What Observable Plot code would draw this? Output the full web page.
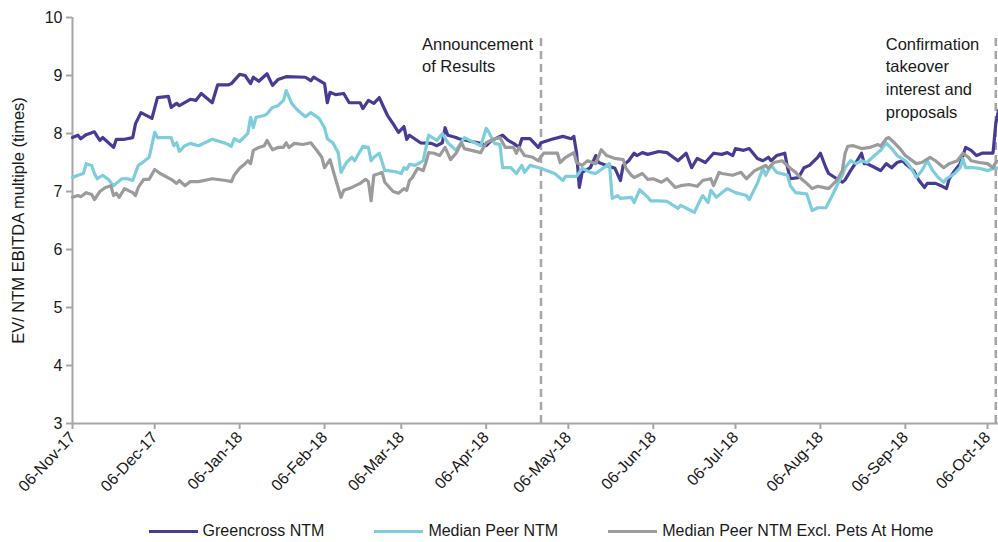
<!DOCTYPE html>
<html>
<head>
<meta charset="utf-8">
<script src="https://cdn.jsdelivr.net/npm/d3@7"></script>
<script src="https://cdn.jsdelivr.net/npm/@observablehq/plot@0.6"></script>
<style>
  body { margin: 0; background: #fff; font-family: "Liberation Sans", Arial, sans-serif; }
  #chart svg { display: block; }
  #legend { display: flex; justify-content: center; padding-left: 84px; margin-top: 4px; height: 24px; line-height: 24px; font-size: 16px; color: #1a1a1a; }
  .item { display: flex; align-items: center; margin: 0 25px; }
  .sw { width: 49px; height: 3px; margin-right: 5px; }
</style>
</head>
<body>
<div id="chart"></div>
<div id="legend"></div>
<script>
const seriesNames = ["Greencross NTM", "Median Peer NTM", "Median Peer NTM Excl. Pets At Home"];
const seriesColors = ["#473c95", "#7dcddd", "#9b9b9b"];

const greencross = [["2017-11-06",7.93],["2017-11-08",7.97],["2017-11-09",7.91],["2017-11-11",7.98],["2017-11-14",8.03],["2017-11-15",7.95],["2017-11-16",7.88],["2017-11-17",7.93],["2017-11-21",7.76],["2017-11-22",7.9],["2017-11-25",7.9],["2017-11-28",7.93],["2017-11-29",8.17],["2017-12-01",8.36],["2017-12-05",8.26],["2017-12-07",8.62],["2017-12-11",8.64],["2017-12-12",8.45],["2017-12-14",8.52],["2017-12-15",8.48],["2017-12-19",8.59],["2017-12-21",8.57],["2017-12-23",8.69],["2017-12-27",8.53],["2017-12-29",8.84],["2018-01-02",8.84],["2018-01-03",8.86],["2018-01-06",9.02],["2018-01-08",9.0],["2018-01-10",8.86],["2018-01-11",8.97],["2018-01-13",8.9],["2018-01-16",9.03],["2018-01-18",8.83],["2018-01-20",8.93],["2018-01-23",8.98],["2018-01-30",8.97],["2018-02-01",8.91],["2018-02-02",8.97],["2018-02-06",8.86],["2018-02-07",8.53],["2018-02-08",8.71],["2018-02-10",8.67],["2018-02-13",8.69],["2018-02-15",8.53],["2018-02-19",8.53],["2018-02-20",8.43],["2018-02-22",8.57],["2018-02-24",8.52],["2018-02-26",8.62],["2018-02-28",8.41],["2018-03-01",8.31],["2018-03-03",8.17],["2018-03-05",8.02],["2018-03-07",8.12],["2018-03-08",7.9],["2018-03-09",7.97],["2018-03-13",7.84],["2018-03-17",7.83],["2018-03-19",7.79],["2018-03-21",7.84],["2018-03-22",8.1],["2018-03-23",7.97],["2018-03-26",7.93],["2018-03-27",7.91],["2018-03-30",7.88],["2018-04-04",7.83],["2018-04-06",7.79],["2018-04-08",7.88],["2018-04-12",7.97],["2018-04-14",7.88],["2018-04-16",7.83],["2018-04-18",7.76],["2018-04-19",7.91],["2018-04-22",7.91],["2018-04-25",7.76],["2018-04-26",7.84],["2018-04-30",7.9],["2018-05-04",7.95],["2018-05-07",7.91],["2018-05-08",7.95],["2018-05-09",7.66],["2018-05-10",7.07],["2018-05-11",7.33],["2018-05-14",7.41],["2018-05-16",7.62],["2018-05-17",7.5],["2018-05-20",7.45],["2018-05-23",7.4],["2018-05-25",7.19],["2018-05-26",7.45],["2018-05-28",7.53],["2018-05-30",7.66],["2018-05-31",7.62],["2018-06-02",7.67],["2018-06-04",7.64],["2018-06-08",7.69],["2018-06-11",7.67],["2018-06-15",7.53],["2018-06-18",7.66],["2018-06-20",7.41],["2018-06-22",7.57],["2018-06-25",7.5],["2018-06-28",7.66],["2018-07-01",7.64],["2018-07-03",7.67],["2018-07-05",7.62],["2018-07-06",7.74],["2018-07-09",7.71],["2018-07-11",7.74],["2018-07-14",7.57],["2018-07-16",7.53],["2018-07-18",7.59],["2018-07-19",7.53],["2018-07-21",7.62],["2018-07-24",7.66],["2018-07-25",7.41],["2018-07-26",7.22],["2018-07-29",7.24],["2018-07-31",7.41],["2018-08-02",7.45],["2018-08-05",7.59],["2018-08-06",7.66],["2018-08-08",7.41],["2018-08-09",7.31],["2018-08-12",7.22],["2018-08-14",7.16],["2018-08-15",7.2],["2018-08-17",7.36],["2018-08-19",7.5],["2018-08-21",7.66],["2018-08-22",7.48],["2018-08-23",7.48],["2018-08-26",7.41],["2018-08-28",7.36],["2018-08-30",7.48],["2018-09-01",7.41],["2018-09-03",7.5],["2018-09-05",7.53],["2018-09-06",7.48],["2018-09-09",7.36],["2018-09-11",7.19],["2018-09-13",7.07],["2018-09-14",7.14],["2018-09-17",7.14],["2018-09-19",7.1],["2018-09-21",7.05],["2018-09-22",7.22],["2018-09-24",7.36],["2018-09-26",7.48],["2018-09-28",7.76],["2018-09-30",7.71],["2018-10-02",7.62],["2018-10-04",7.66],["2018-10-06",7.66],["2018-10-08",7.66],["2018-10-09",8.17],["2018-10-10",8.4]];

const medianPeer = [["2017-11-06",7.24],["2017-11-08",7.28],["2017-11-10",7.31],["2017-11-11",7.48],["2017-11-13",7.45],["2017-11-14",7.31],["2017-11-15",7.22],["2017-11-17",7.28],["2017-11-19",7.21],["2017-11-21",7.1],["2017-11-22",7.14],["2017-11-24",7.22],["2017-11-26",7.22],["2017-11-28",7.19],["2017-11-30",7.45],["2017-12-01",7.48],["2017-12-04",7.59],["2017-12-06",8.02],["2017-12-07",7.93],["2017-12-12",7.93],["2017-12-13",7.79],["2017-12-14",7.84],["2017-12-15",7.69],["2017-12-17",7.79],["2017-12-19",7.83],["2017-12-22",7.79],["2017-12-27",7.9],["2018-01-01",7.83],["2018-01-03",7.78],["2018-01-04",7.91],["2018-01-06",7.86],["2018-01-09",8.0],["2018-01-10",8.28],["2018-01-11",8.1],["2018-01-12",8.28],["2018-01-15",8.31],["2018-01-16",8.34],["2018-01-18",8.45],["2018-01-20",8.48],["2018-01-22",8.57],["2018-01-23",8.74],["2018-01-25",8.52],["2018-01-27",8.41],["2018-01-30",8.29],["2018-02-01",8.36],["2018-02-04",8.26],["2018-02-06",8.1],["2018-02-07",7.91],["2018-02-09",7.84],["2018-02-11",7.67],["2018-02-12",7.33],["2018-02-14",7.5],["2018-02-16",7.59],["2018-02-17",7.53],["2018-02-20",7.78],["2018-02-22",7.76],["2018-02-23",7.53],["2018-02-24",7.59],["2018-02-26",7.66],["2018-02-28",7.36],["2018-03-01",7.36],["2018-03-04",7.34],["2018-03-06",7.31],["2018-03-07",7.41],["2018-03-08",7.38],["2018-03-09",7.47],["2018-03-11",7.45],["2018-03-13",7.5],["2018-03-14",7.53],["2018-03-16",7.97],["2018-03-19",7.88],["2018-03-21",8.0],["2018-03-23",7.84],["2018-03-26",7.71],["2018-03-29",7.93],["2018-04-04",7.79],["2018-04-05",7.93],["2018-04-06",8.09],["2018-04-07",8.02],["2018-04-09",7.83],["2018-04-11",7.81],["2018-04-12",7.41],["2018-04-15",7.41],["2018-04-17",7.31],["2018-04-19",7.45],["2018-04-20",7.33],["2018-04-22",7.45],["2018-04-26",7.4],["2018-04-27",7.38],["2018-05-01",7.31],["2018-05-04",7.19],["2018-05-05",7.26],["2018-05-09",7.26],["2018-05-11",7.4],["2018-05-14",7.33],["2018-05-16",7.31],["2018-05-18",7.38],["2018-05-21",7.48],["2018-05-22",6.88],["2018-05-24",6.93],["2018-05-25",6.88],["2018-05-29",6.9],["2018-05-30",6.81],["2018-06-01",7.03],["2018-06-04",6.9],["2018-06-05",6.84],["2018-06-08",6.84],["2018-06-11",6.83],["2018-06-15",6.71],["2018-06-16",6.76],["2018-06-19",6.69],["2018-06-21",6.64],["2018-06-23",6.84],["2018-06-24",6.93],["2018-06-26",6.81],["2018-06-27",7.02],["2018-06-29",6.9],["2018-07-03",7.05],["2018-07-06",6.98],["2018-07-10",6.93],["2018-07-11",6.86],["2018-07-14",7.14],["2018-07-16",7.4],["2018-07-17",7.28],["2018-07-19",7.45],["2018-07-21",7.33],["2018-07-25",7.28],["2018-07-26",7.1],["2018-07-28",6.98],["2018-08-01",6.96],["2018-08-03",6.67],["2018-08-05",6.72],["2018-08-08",6.72],["2018-08-10",6.9],["2018-08-12",7.1],["2018-08-14",7.28],["2018-08-15",7.41],["2018-08-17",7.53],["2018-08-19",7.48],["2018-08-21",7.53],["2018-08-23",7.5],["2018-08-25",7.59],["2018-08-28",7.71],["2018-08-30",7.84],["2018-09-01",7.74],["2018-09-03",7.62],["2018-09-06",7.53],["2018-09-08",7.41],["2018-09-10",7.24],["2018-09-12",7.36],["2018-09-14",7.53],["2018-09-16",7.36],["2018-09-18",7.24],["2018-09-20",7.16],["2018-09-21",7.22],["2018-09-24",7.31],["2018-09-26",7.41],["2018-09-27",7.57],["2018-09-28",7.41],["2018-10-01",7.41],["2018-10-03",7.4],["2018-10-06",7.36],["2018-10-09",7.41],["2018-10-10",7.4]];

const medianPeerExPAH = [["2017-11-06",6.9],["2017-11-08",6.93],["2017-11-09",6.91],["2017-11-11",6.98],["2017-11-13",6.95],["2017-11-14",6.86],["2017-11-16",7.0],["2017-11-18",7.07],["2017-11-20",7.1],["2017-11-21",6.93],["2017-11-22",6.97],["2017-11-23",6.9],["2017-11-25",7.05],["2017-11-28",6.98],["2017-11-29",6.93],["2017-11-30",7.07],["2017-12-02",7.21],["2017-12-04",7.21],["2017-12-06",7.38],["2017-12-08",7.31],["2017-12-12",7.21],["2017-12-14",7.14],["2017-12-15",7.19],["2017-12-17",7.1],["2017-12-19",7.17],["2017-12-22",7.17],["2017-12-27",7.22],["2018-01-01",7.19],["2018-01-03",7.17],["2018-01-04",7.28],["2018-01-06",7.4],["2018-01-08",7.48],["2018-01-09",7.53],["2018-01-10",7.48],["2018-01-11",7.71],["2018-01-13",7.76],["2018-01-15",7.79],["2018-01-16",7.88],["2018-01-18",7.72],["2018-01-20",7.76],["2018-01-22",7.76],["2018-01-23",7.84],["2018-01-24",7.76],["2018-01-26",7.83],["2018-01-29",7.81],["2018-02-01",7.84],["2018-02-03",7.72],["2018-02-05",7.59],["2018-02-06",7.41],["2018-02-08",7.55],["2018-02-10",7.22],["2018-02-12",6.9],["2018-02-13",7.02],["2018-02-16",7.07],["2018-02-19",7.14],["2018-02-21",7.21],["2018-02-22",7.17],["2018-02-23",6.84],["2018-02-24",7.28],["2018-02-26",7.31],["2018-02-27",7.33],["2018-02-28",7.16],["2018-03-03",7.0],["2018-03-05",6.97],["2018-03-07",7.05],["2018-03-08",7.02],["2018-03-09",7.19],["2018-03-10",7.24],["2018-03-12",7.4],["2018-03-14",7.36],["2018-03-15",7.5],["2018-03-16",7.67],["2018-03-18",7.66],["2018-03-20",7.62],["2018-03-22",7.76],["2018-03-24",7.55],["2018-03-26",7.66],["2018-03-28",7.84],["2018-03-29",7.74],["2018-04-04",7.67],["2018-04-06",7.84],["2018-04-09",7.91],["2018-04-11",7.93],["2018-04-13",7.76],["2018-04-16",7.76],["2018-04-17",7.66],["2018-04-18",7.76],["2018-04-20",7.62],["2018-04-23",7.59],["2018-04-25",7.53],["2018-04-26",7.6],["2018-04-27",7.66],["2018-04-29",7.66],["2018-05-02",7.66],["2018-05-03",7.5],["2018-05-05",7.59],["2018-05-08",7.67],["2018-05-09",7.5],["2018-05-11",7.45],["2018-05-13",7.53],["2018-05-16",7.48],["2018-05-18",7.72],["2018-05-20",7.62],["2018-05-23",7.57],["2018-05-26",7.55],["2018-05-27",7.4],["2018-05-29",7.28],["2018-05-30",7.24],["2018-06-02",7.31],["2018-06-04",7.21],["2018-06-06",7.22],["2018-06-09",7.16],["2018-06-11",7.22],["2018-06-14",7.07],["2018-06-16",7.1],["2018-06-19",7.12],["2018-06-22",7.09],["2018-06-24",7.19],["2018-06-27",7.22],["2018-06-28",7.1],["2018-06-30",7.33],["2018-07-01",7.31],["2018-07-05",7.28],["2018-07-08",7.33],["2018-07-10",7.22],["2018-07-13",7.36],["2018-07-17",7.45],["2018-07-18",7.4],["2018-07-20",7.5],["2018-07-23",7.53],["2018-07-26",7.4],["2018-07-28",7.33],["2018-07-30",7.22],["2018-08-01",7.14],["2018-08-03",7.05],["2018-08-05",7.09],["2018-08-07",7.07],["2018-08-09",7.05],["2018-08-12",7.19],["2018-08-14",7.36],["2018-08-15",7.66],["2018-08-16",7.78],["2018-08-18",7.79],["2018-08-21",7.74],["2018-08-24",7.76],["2018-08-27",7.81],["2018-08-28",7.78],["2018-08-30",7.91],["2018-08-31",7.93],["2018-09-02",7.84],["2018-09-04",7.74],["2018-09-06",7.62],["2018-09-10",7.48],["2018-09-12",7.5],["2018-09-15",7.59],["2018-09-17",7.53],["2018-09-20",7.41],["2018-09-22",7.48],["2018-09-25",7.53],["2018-09-27",7.66],["2018-09-29",7.59],["2018-09-30",7.53],["2018-10-03",7.5],["2018-10-06",7.48],["2018-10-08",7.41],["2018-10-09",7.5],["2018-10-10",7.52]];

const xTickDates = ["2017-11-06","2017-12-06","2018-01-06","2018-02-06","2018-03-06","2018-04-06","2018-05-06","2018-06-06","2018-07-06","2018-08-06","2018-09-06","2018-10-06"];
const yTicks = [3, 4, 5, 6, 7, 8, 9, 10];
const xDomain = ["2017-11-06", "2018-10-10"];
const yDomain = [3, 10];
const yLabel = "EV/ NTM EBITDA multiple (times)";
const events = [
  {date: "2018-04-26", label: "Announcement\nof Results", top: 9.7},
  {date: "2018-10-09", label: "Confirmation\ntakeover\ninterest and\nproposals", top: 9.7}
];

const parse = d3.utcParse("%Y-%m-%d");
const rows = [];
[greencross, medianPeer, medianPeerExPAH].forEach((s, i) => {
  s.forEach(([d, v]) => rows.push({date: parse(d), value: v, series: seriesNames[i]}));
});
const ev = events.map(e => ({...e, date: parse(e.date)}));
const axisColor = "#a6a6a6";
const textColor = "#1a1a1a";
const fontFamily = '"Liberation Sans", Arial, sans-serif';

const chart = Plot.plot({
  width: 998,
  height: 515,
  marginLeft: 72,
  marginRight: 0,
  marginTop: 17,
  marginBottom: 92,
  style: {fontFamily, fontSize: "15px", color: textColor, background: "#fff"},
  x: {type: "utc", domain: xDomain.map(parse)},
  y: {domain: yDomain},
  color: {domain: seriesNames, range: seriesColors},
  marks: [
    Plot.ruleY([yDomain[0]], {stroke: axisColor, strokeWidth: 2}),
    Plot.ruleX([parse(xDomain[0])], {stroke: axisColor, strokeWidth: 2}),
    Plot.axisX({ticks: xTickDates.map(parse), tickFormat: d3.utcFormat("%d-%b-%y"), tickRotate: -47, tickSize: 6, tickPadding: 5, stroke: axisColor, strokeWidth: 2, fill: textColor, fontSize: 16, label: null}),
    Plot.axisY({ticks: yTicks, tickFormat: d3.format("d"), tickSize: 6, tickPadding: 4, stroke: axisColor, strokeWidth: 2, fill: textColor, fontSize: 16, label: null}),
    Plot.text([yLabel], {frameAnchor: "left", textAnchor: "middle", rotate: -90, dx: -54, fontSize: 16.5, fill: textColor}),
    Plot.ruleX(ev, {x: "date", y1: yDomain[0], y2: "top", stroke: axisColor, strokeWidth: 2.5, strokeDasharray: "8,5"}),
    Plot.line(rows, {x: "date", y: "value", z: "series", stroke: "series", strokeWidth: 3.2, strokeLinejoin: "round"}),
    Plot.text([ev[0]], {x: "date", text: "label", frameAnchor: "top", textAnchor: "start", lineAnchor: "top", dx: -119, dy: 16, fontSize: 16.5, lineHeight: 1.38, fill: textColor}),
    Plot.text([ev[1]], {x: "date", text: "label", frameAnchor: "top", textAnchor: "start", lineAnchor: "top", dx: -110, dy: 16, fontSize: 16.5, lineHeight: 1.38, fill: textColor})
  ]
});
document.getElementById("chart").appendChild(chart);

const legend = document.getElementById("legend");
seriesNames.forEach((n, i) => {
  const it = document.createElement("div");
  it.className = "item";
  const sw = document.createElement("span");
  sw.className = "sw";
  sw.style.background = seriesColors[i];
  const t = document.createElement("span");
  t.textContent = n;
  it.appendChild(sw); it.appendChild(t);
  legend.appendChild(it);
});
</script>
</body>
</html>
